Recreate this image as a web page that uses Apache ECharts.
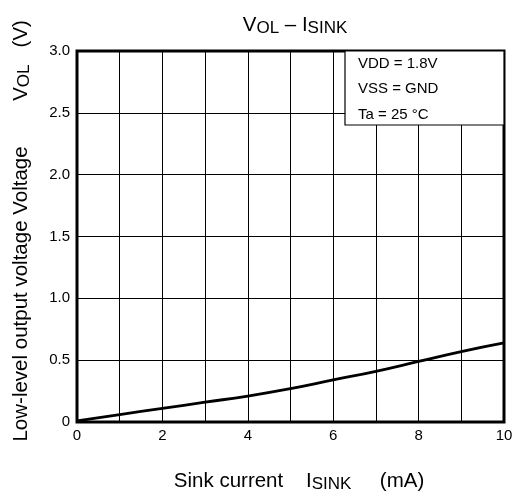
<!DOCTYPE html>
<html><head><meta charset="utf-8">
<script src="https://cdn.jsdelivr.net/npm/echarts@6/dist/echarts.min.js"></script>
<style>html,body{margin:0;padding:0;background:#fff}#c{width:521px;height:497px}</style>
</head><body><div id="c"></div>
<script>
const sinkCurrent = [0, 1, 2, 3, 4, 5, 6, 7, 8, 9, 10];
const vol = [0.01, 0.06, 0.11, 0.16, 0.21, 0.27, 0.34, 0.41, 0.49, 0.57, 0.64];
const conditions = ['VDD = 1.8V', 'VSS = GND', 'Ta = 25 °C'];

const chart = echarts.init(document.getElementById('c'));
const font = 'Liberation Sans, Arial, sans-serif';
const sub = {fontSize: 17, fontFamily: font, color: '#000', padding: [7, 0, 0, 0]};
chart.setOption({
  animation: false,
  title: {
    text: 'V{s|OL} – I{s|SINK}',
    left: 290, top: 8, textAlign: 'center',
    textStyle: {fontSize: 20.5, fontWeight: 'normal', fontFamily: font, color: '#000',
      rich: {s: sub}}
  },
  grid: {left: 77, right: 17, top: 51, bottom: 75, outerBoundsMode: 'none', containLabel: false,
    show: true, borderColor: '#000', borderWidth: 3, backgroundColor: 'transparent'},
  xAxis: {
    type: 'value', min: 0, max: 10, interval: 1,
    name: '   Sink current    I{s|SINK}     (mA)', nameLocation: 'middle', nameGap: 47,
    nameTextStyle: {fontSize: 20.5, fontFamily: font, color: '#000', rich: {s: sub}},
    axisLine: {show: false}, axisTick: {show: false},
    axisLabel: {color: '#000', fontSize: 15, fontFamily: font, margin: 6,
      formatter: v => (v % 2 === 0 ? String(v) : '')},
    splitLine: {lineStyle: {color: '#000', width: 1}}
  },
  yAxis: {
    type: 'value', min: 0, max: 3, interval: 0.5,
    name: '  Low-level output voltage Voltage        V{s|OL}   (V)', nameLocation: 'middle', nameGap: 44, nameRotate: 90,
    nameTextStyle: {fontSize: 20.5, fontFamily: font, color: '#000', rich: {s: sub}},
    axisLine: {show: false}, axisTick: {show: false},
    axisLabel: {color: '#000', fontSize: 15, fontFamily: font, margin: 7,
      formatter: v => (v === 0 ? '0' : v.toFixed(1))},
    splitLine: {lineStyle: {color: '#000', width: 1}}
  },
  graphic: [
    {type: 'rect', shape: {x: 345, y: 51, width: 159, height: 74}, style: {fill: '#fff', stroke: '#000', lineWidth: 1.2}, z: 10},
    {type: 'text', x: 358, y: 64, style: {text: conditions[0], font: '15px Liberation Sans, Arial', fill: '#000', textVerticalAlign: 'middle'}, z: 11},
    {type: 'text', x: 358, y: 89, style: {text: conditions[1], font: '15px Liberation Sans, Arial', fill: '#000', textVerticalAlign: 'middle'}, z: 11},
    {type: 'text', x: 358, y: 115, style: {text: conditions[2], font: '15px Liberation Sans, Arial', fill: '#000', textVerticalAlign: 'middle'}, z: 11}
  ],
  series: [{
    type: 'line', data: sinkCurrent.map((x, i) => [x, vol[i]]),
    smooth: true, showSymbol: false,
    lineStyle: {color: '#000', width: 2.8}
  }]
});
</script></body></html>
